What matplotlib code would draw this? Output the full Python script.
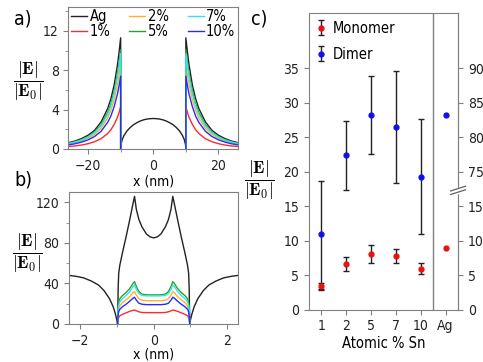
import numpy as np
import matplotlib.pyplot as plt
from matplotlib.lines import Line2D
from matplotlib.ticker import MultipleLocator

plt.rcParams['font.family'] = 'DejaVu Sans'
plt.rcParams['font.stretch'] = 'condensed'
plt.rcParams['font.size'] = 10
plt.rcParams['mathtext.fontset'] = 'cm'
plt.rcParams['axes.edgecolor'] = '#808080'
plt.rcParams['xtick.color'] = '#808080'
plt.rcParams['ytick.color'] = '#808080'
plt.rcParams['xtick.labelcolor'] = '#222222'
plt.rcParams['ytick.labelcolor'] = '#222222'

# colours of the Sn series
c_ag = '#222222'
c_1, c_2, c_5, c_7, c_10 = '#ff2a2a', '#ffb030', '#2ca02c', '#2ee8e8', '#2a2aff'

# --- a) sphere, field along x (right half, left half is mirrored) ---
xa_out = np.array([10, 10.5, 11, 12, 13, 14, 16, 18, 20, 22, 24, 26])
ea_ag = np.array([11.3, 9.8, 8.5, 6.5, 5.1, 4.1, 2.75, 1.9, 1.4, 1.06, 0.81, 0.64])
ea_1 = np.array([4.3, 3.7, 3.2, 2.5, 1.95, 1.57, 1.05, 0.74, 0.54, 0.40, 0.31, 0.25])
ea_2 = np.array([8.7, 7.5, 6.5, 5.0, 3.95, 3.15, 2.1, 1.49, 1.09, 0.82, 0.63, 0.5])
ea_5 = np.array([10.1, 8.75, 7.6, 5.85, 4.6, 3.7, 2.45, 1.73, 1.26, 0.95, 0.73, 0.58])
ea_7 = np.array([9.7, 8.4, 7.3, 5.6, 4.4, 3.5, 2.35, 1.66, 1.21, 0.91, 0.70, 0.55])
ea_10 = np.array([7.4, 6.4, 5.55, 4.3, 3.35, 2.7, 1.8, 1.27, 0.93, 0.70, 0.53, 0.42])
xa_in = np.array([0, 1, 2, 3, 4, 5, 6, 7, 8, 9, 9.5, 9.9, 10])
ea_ag_in = np.array([3.1, 3.08, 3.04, 2.96, 2.84, 2.68, 2.48, 2.21, 1.86, 1.35, 0.97, 0.44, 0])

# --- b) dimer gap, field along x (right half) ---
xb_in = np.array([0, 0.1, 0.2, 0.32, 0.4, 0.47, 0.52, 0.56, 0.65, 0.75, 0.85, 0.92, 0.95, 0.965, 0.98])
eb_ag_in = np.array([85, 86, 89, 96, 103, 113, 126, 119, 103, 86, 70, 58, 50, 35, 0])
eb_1 = np.array([11.2, 11.2, 11.2, 11.4, 12, 13, 13.8, 13.5, 12.5, 11, 9.5, 8, 6.5, 4.5, 0])
eb_2 = np.array([23, 23, 23, 23.5, 25, 28.5, 32, 31, 27, 24, 21, 18, 15, 11, 0])
eb_5 = np.array([28.7, 28.7, 28.8, 29.5, 32, 37, 41.8, 40, 35, 31, 28, 25, 21, 16, 0])
eb_7 = np.array([27.7, 27.7, 27.8, 28.3, 30, 34, 38.6, 37, 32, 28, 25, 22, 18.5, 14, 0])
eb_10 = np.array([19.1, 19.1, 19.1, 19.5, 20.5, 23.5, 26.4, 25.5, 22.5, 19.5, 17, 14.5, 12, 9, 0])
xb_out = np.array([0.98, 1.0, 1.04, 1.1, 1.2, 1.35, 1.5, 1.7, 1.9, 2.1, 2.3])
eb_ag_out = np.array([0, 4, 10, 17, 25, 33, 38.5, 42.5, 45.5, 47, 48])

# --- c) enhancement vs Sn content ---
sn_labels = ['1', '2', '5', '7', '10']
mono = np.array([3.4, 6.6, 8.1, 7.7, 5.9])
mono_lo = np.array([2.9, 5.6, 6.7, 6.7, 5.1])
mono_hi = np.array([3.9, 7.6, 9.4, 8.8, 6.7])
dimer = np.array([10.9, 22.4, 28.3, 26.5, 19.3])
dimer_lo = np.array([3.0, 17.3, 22.6, 18.4, 10.9])
dimer_hi = np.array([18.6, 27.4, 33.9, 34.6, 27.7])
ag_mono = 9.0     # right axis
ag_dimer = 83.3   # right axis (upper part)

series_names = ['1%', '2%', '5%', '7%', '10%']
series_cols = [c_1, c_2, c_5, c_7, c_10]

fig = plt.figure(figsize=(4.83, 3.62), dpi=100)

# ---------------- panel a ----------------
axa = fig.add_axes([0.1418, 0.5884, 0.351, 0.3914])
xl = np.concatenate([-xa_out[::-1], [-10]])
xr = np.concatenate([[10], xa_out])
xin = np.concatenate([-xa_in[::-1], xa_in[1:]])
ein = np.concatenate([ea_ag_in[::-1], ea_ag_in[1:]])
axa.plot(np.concatenate([xl, xin, xr]),
         np.concatenate([ea_ag[::-1], [0], ein, [0], ea_ag]),
         color=c_ag, lw=1, label='Ag')
for name, col, ev in zip(series_names, series_cols, [ea_1, ea_2, ea_5, ea_7, ea_10]):
    axa.plot(np.concatenate([xl, [np.nan], xr]),
             np.concatenate([ev[::-1], [0], [np.nan], [0], ev]),
             color=col, lw=1, label=name)
axa.set_xlim(-26, 26)
axa.set_ylim(0, 14.4)
axa.set_xticks([-20, 0, 20])
axa.xaxis.set_minor_locator(MultipleLocator(10))
axa.set_yticks([0, 4, 8, 12])
axa.yaxis.set_minor_locator(MultipleLocator(2))
axa.set_xlabel('x (nm)', labelpad=1)
axa.legend(ncol=3, loc='upper center', frameon=False, fontsize=10.5,
           handlelength=1.1, handletextpad=0.15, columnspacing=1.3,
           labelspacing=0.0, borderaxespad=0.05, borderpad=0.1)

# ---------------- panel b ----------------
axb = fig.add_axes([0.1429, 0.105, 0.3505, 0.3638])
xbi = np.concatenate([-xb_in[::-1], xb_in[1:]])
xbo = xb_out
black_b_x = np.concatenate([-xbo[::-1], xbi, xbo])
black_b_y = np.concatenate([eb_ag_out[::-1], np.concatenate([eb_ag_in[::-1], eb_ag_in[1:]]), eb_ag_out])
axb.plot(black_b_x, black_b_y, color=c_ag, lw=1)
for col, ev in zip(series_cols, [eb_1, eb_2, eb_5, eb_7, eb_10]):
    axb.plot(xbi, np.concatenate([ev[::-1], ev[1:]]), color=col, lw=1)
axb.set_xlim(-2.3, 2.3)
axb.set_ylim(0, 130)
axb.set_xticks([-2, 0, 2])
axb.xaxis.set_minor_locator(MultipleLocator(1))
axb.set_yticks([0, 40, 80, 120])
axb.yaxis.set_minor_locator(MultipleLocator(20))
axb.set_xlabel('x (nm)', labelpad=0)

# ---------------- panel c ----------------
axc = fig.add_axes([0.6398, 0.145, 0.3085, 0.8199])
brk = 17.3


def to_right(y):
    y = np.asarray(y, dtype=float)
    return np.where(y < brk, y, y + 55)


def to_left(v):
    v = np.asarray(v, dtype=float)
    return np.where(v < 45, v, v - 55)


xpos = np.arange(1, len(sn_labels) + 1)
hd = axc.errorbar(xpos, dimer, yerr=[dimer - dimer_lo, dimer_hi - dimer],
                  fmt='o', color='#1010ee', ms=3.5, ecolor='#222222',
                  elinewidth=1, capsize=2.5, capthick=1, label='Dimer')
hm = axc.errorbar(xpos, mono, yerr=[mono - mono_lo, mono_hi - mono],
                  fmt='o', color='#ee1010', ms=3.5, ecolor='#222222',
                  elinewidth=1, capsize=2.5, capthick=1, label='Monomer')
axc.plot([6], to_left([ag_dimer]), 'o', color='#1010ee', ms=3.5)
axc.plot([6], to_left([ag_mono]), 'o', color='#ee1010', ms=3.5)
axc.axvline(5.5, color='#808080', lw=1)
axc.set_xlim(0.5, 6.5)
axc.set_ylim(0, 43.1)
axc.set_xticks(list(xpos) + [6])
axc.set_xticklabels(sn_labels + ['Ag'])
axc.set_yticks(np.arange(0, 36, 5))
axc.set_xlabel('Atomic % Sn', labelpad=2, fontsize=10.5)
axc.legend(handles=[hm, hd], loc='upper left', frameon=False, fontsize=10.5,
           handlelength=0.6, handletextpad=0.5, labelspacing=0.75,
           borderaxespad=0.15)

sec = axc.secondary_yaxis('right', functions=(to_right, to_left))
sec.set_yticks([0, 5, 10, 15, 75, 80, 85, 90])
sec.tick_params(colors='#808080', labelcolor='#222222')

# axis break marks on the right spine
yb = brk / 43.1
fig.add_artist(Line2D([1, 1], [yb - 0.006, yb + 0.006], transform=axc.transAxes,
                      color='white', lw=2.5, zorder=10))
for dy in (-0.006, 0.006):
    fig.add_artist(Line2D([0.95, 1.05], [yb + dy - 0.008, yb + dy + 0.008],
                          transform=axc.transAxes, color='#606060', lw=0.9, zorder=11))

# y labels and panel letters
frac = r'$\dfrac{|\mathbf{E}|}{|\mathbf{E}_0|}$'
fig.text(0.058, 0.776, frac, ha='center', va='center', fontsize=12.5)
fig.text(0.056, 0.300, frac, ha='center', va='center', fontsize=12.5)
fig.text(0.538, 0.503, frac, ha='center', va='center', fontsize=12.5)
fig.text(0.03, 0.948, 'a)', fontsize=14, va='center')
fig.text(0.03, 0.503, 'b)', fontsize=14, va='center')
fig.text(0.52, 0.948, 'c)', fontsize=14, va='center')

fig.savefig('out.png', dpi=100)
